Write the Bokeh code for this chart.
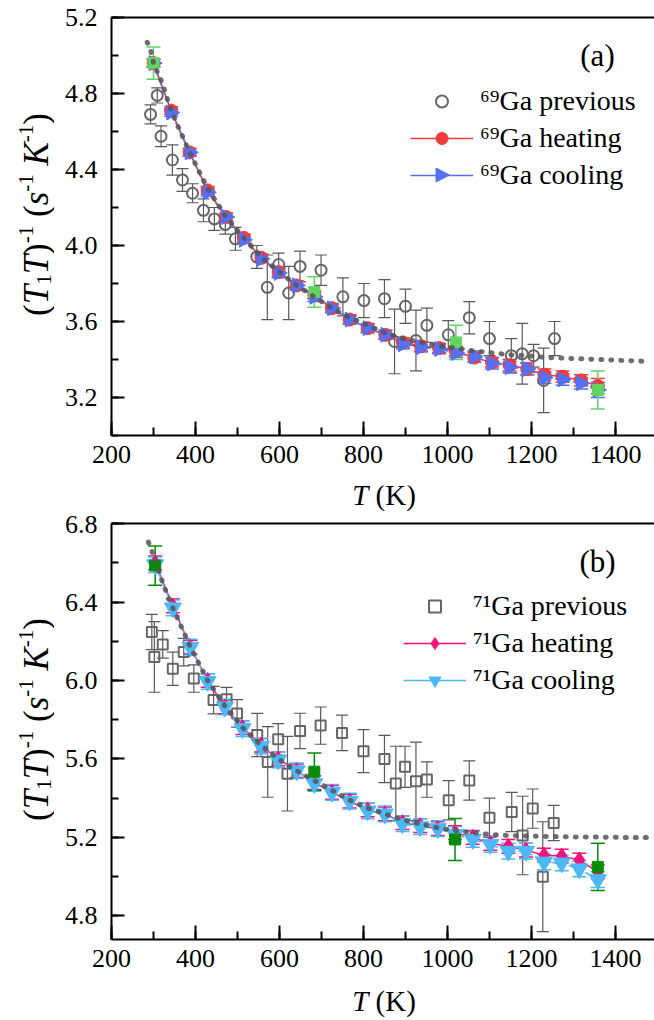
from bokeh.plotting import figure
from bokeh.models import (Range1d, LinearAxis, SingleIntervalTicker, FixedTicker, PrintfTickFormatter,
                          Whisker, TeeHead, ColumnDataSource, Legend, LegendItem, Label, PolyAnnotation)
from bokeh.layouts import column, row
from bokeh.embed import file_html
from bokeh.resources import INLINE
import math

FONT = "Liberation Serif"

# ---------------- panel (a): 69Ga ----------------
a_prev_T = [293, 309, 318, 345, 369, 393, 419, 445, 471, 495, 546, 571, 598, 622, 649, 699, 751, 801,
            850, 874, 900, 925, 951, 1002, 1052, 1100, 1152, 1178, 1205, 1229, 1255]
a_prev_R = [4.69, 4.79, 4.575, 4.45, 4.345, 4.275, 4.185, 4.14, 4.11, 4.035, 3.94, 3.78, 3.90, 3.75, 3.89,
            3.87, 3.73, 3.71, 3.72, 3.495, 3.68, 3.50, 3.58, 3.53, 3.62, 3.51, 3.42, 3.43, 3.42, 3.29, 3.51]
a_prev_E = [0.05, 0.04, 0.055, 0.08, 0.06, 0.05, 0.06, 0.06, 0.05, 0.06, 0.06, 0.17, 0.06, 0.14, 0.08,
            0.08, 0.10, 0.09, 0.10, 0.17, 0.09, 0.16, 0.09, 0.075, 0.085, 0.09, 0.09, 0.16, 0.06, 0.17, 0.09]

a_T = [300, 342, 386, 429, 473, 515, 557, 598, 641, 683, 725, 767, 810, 852, 894, 937, 980, 1020,
       1064, 1106, 1148, 1190, 1231, 1274, 1318, 1358]
a_heat_R = [4.96, 4.71, 4.49, 4.29, 4.15, 4.04, 3.935, 3.86, 3.79, 3.74, 3.67, 3.61, 3.565, 3.53, 3.49,
            3.47, 3.46, 3.445, 3.41, 3.385, 3.37, 3.35, 3.32, 3.31, 3.29, 3.26]
a_heat_E = [0.02, 0.02, 0.02, 0.02, 0.02, 0.02, 0.02, 0.02, 0.02, 0.02, 0.02, 0.02, 0.02, 0.02, 0.025,
            0.025, 0.025, 0.025, 0.025, 0.025, 0.03, 0.03, 0.03, 0.03, 0.03, 0.04]
a_cool_R = [4.96, 4.70, 4.49, 4.28, 4.15, 4.03, 3.93, 3.855, 3.79, 3.73, 3.67, 3.61, 3.565, 3.53, 3.48,
            3.465, 3.455, 3.435, 3.415, 3.38, 3.36, 3.35, 3.305, 3.295, 3.275, 3.24]
a_cool_E = [0.02, 0.02, 0.02, 0.02, 0.02, 0.02, 0.02, 0.025, 0.025, 0.025, 0.025, 0.025, 0.025, 0.025,
            0.025, 0.025, 0.025, 0.025, 0.03, 0.03, 0.03, 0.03, 0.03, 0.03, 0.03, 0.04]

a_ref_T = [300, 683, 1020, 1358]
a_ref_R = [4.96, 3.755, 3.49, 3.24]
a_ref_E = [0.085, 0.08, 0.09, 0.10]

a_fit_T = [285, 294, 300, 320, 342, 386, 429, 473, 515, 557, 600, 641, 683, 725, 767, 810, 852, 894,
           937, 980, 1020, 1064, 1106, 1148, 1190, 1240, 1300, 1360, 1420, 1480]
a_fit_R = [5.07, 5.02, 4.96, 4.86, 4.71, 4.49, 4.30, 4.15, 4.04, 3.94, 3.86, 3.79, 3.73, 3.67, 3.62,
           3.58, 3.54, 3.51, 3.49, 3.47, 3.46, 3.445, 3.435, 3.425, 3.42, 3.41, 3.405, 3.40, 3.395, 3.39]

# ---------------- panel (b): 71Ga ----------------
b_prev_T = [296, 302, 322, 346, 372, 396, 443, 474, 499, 547, 572, 597, 619, 649, 698, 749, 800, 850,
            877, 899, 925, 951, 1003, 1052, 1100, 1153, 1179, 1203, 1227, 1253]
b_prev_R = [6.247, 6.12, 6.184, 6.06, 6.145, 6.01, 5.90, 5.905, 5.832, 5.722, 5.585, 5.70, 5.525, 5.743,
            5.77, 5.733, 5.64, 5.60, 5.475, 5.56, 5.486, 5.495, 5.39, 5.49, 5.30, 5.33, 5.21, 5.347,
            5.00, 5.274]
b_prev_E = [0.09, 0.18, 0.07, 0.085, 0.07, 0.07, 0.07, 0.06, 0.07, 0.11, 0.18, 0.08, 0.19, 0.09, 0.095,
            0.09, 0.11, 0.12, 0.19, 0.105, 0.2, 0.09, 0.1, 0.1, 0.1, 0.1, 0.2, 0.1, 0.28, 0.09]

b_T = [304, 346, 388, 429, 470, 512, 556, 597, 641, 683, 725, 767, 810, 851, 893, 935, 977, 1018,
       1060, 1102, 1145, 1187, 1230, 1272, 1314, 1358]
b_heat_R = [6.60, 6.38, 6.17, 6.00, 5.865, 5.76, 5.67, 5.60, 5.54, 5.48, 5.43, 5.385, 5.34, 5.32, 5.275,
            5.26, 5.245, 5.225, 5.20, 5.17, 5.155, 5.135, 5.11, 5.105, 5.085, 5.025]
b_heat_E = [0.035] * 26
b_cool_R = [6.59, 6.37, 6.17, 5.995, 5.865, 5.755, 5.665, 5.595, 5.54, 5.475, 5.43, 5.385, 5.335, 5.32,
            5.27, 5.255, 5.245, 5.215, 5.19, 5.165, 5.13, 5.13, 5.075, 5.07, 5.04, 4.985]
b_cool_E = [0.04] * 26

b_ref_T = [304, 683, 1018, 1358]
b_ref_R = [6.586, 5.535, 5.19, 5.05]
b_ref_E = [0.10, 0.095, 0.107, 0.12]

b_fit_T = [288, 296, 305, 325, 346, 388, 429, 470, 512, 556, 597, 641, 683, 725, 767, 810, 851, 893,
           935, 977, 1018, 1060, 1102, 1145, 1190, 1240, 1300, 1360, 1420, 1480]
b_fit_R = [6.705, 6.66, 6.60, 6.48, 6.37, 6.17, 6.00, 5.87, 5.76, 5.67, 5.60, 5.54, 5.49, 5.44, 5.39,
           5.35, 5.32, 5.29, 5.27, 5.25, 5.235, 5.225, 5.215, 5.21, 5.207, 5.205, 5.203, 5.202, 5.20, 5.20]

X_RANGE = (200, 1493)
MAIN_W = 600
LEFT_W = 54
FRAME_LEFT = 111

W_REG = {"(": 0.333, ")": 0.333, "-": 0.333, "1": 0.5, "K": 0.722}
W_IT = {"T": 0.556, "s": 0.389, "K": 0.667}


def tw(s, size, italic):
    tbl = W_IT if italic else W_REG
    return sum(tbl.get(c, 0.5) for c in s) * size


def rich_label(p, pieces, x0, y0, angle=0.0):
    # pieces: (text, italic, size, shift, gap_before)
    total = sum(tw(t, sz, it) + g for t, it, sz, sh, g in pieces)
    cum = -total / 2
    for t, it, sz, sh, g in pieces:
        cum += g
        if angle == 0:
            x, y = x0 + cum, y0 + sh
        else:
            x, y = x0 - sh, y0 + cum
        p.add_layout(Label(x=x, y=y, x_units="screen", y_units="screen", text=t, angle=angle,
                           text_font=FONT, text_font_size=f"{sz}px",
                           text_font_style="italic" if it else "normal",
                           text_align="left", text_baseline="alphabetic", text_color="black"))
        cum += tw(t, sz, it)


def blank_fig(w, h):
    p = figure(width=w, height=h, x_range=Range1d(0, 1), y_range=Range1d(0, 1), output_backend="svg",
               toolbar_location=None, x_axis_type=None, y_axis_type=None,
               min_border_left=0, min_border_right=0, min_border_top=0, min_border_bottom=0)
    p.outline_line_color = None
    p.grid.visible = False
    return p


def errbars(p, xs, ys, es, color, width=1.5, cap=14):
    src = ColumnDataSource(dict(x=xs, lo=[y - e for y, e in zip(ys, es)], hi=[y + e for y, e in zip(ys, es)]))
    p.add_layout(Whisker(source=src, base="x", upper="hi", lower="lo", line_color=color, line_width=width,
                         upper_head=TeeHead(size=cap, line_color=color, line_width=width),
                         lower_head=TeeHead(size=cap, line_color=color, line_width=width)))


def make_fig(yr, height, btop, bbottom):
    p = figure(width=MAIN_W, height=height, x_range=Range1d(*X_RANGE), y_range=Range1d(*yr),
               output_backend="svg", toolbar_location=None, x_axis_type=None, y_axis_type=None,
               min_border_left=FRAME_LEFT - LEFT_W, min_border_right=0, min_border_top=btop,
               min_border_bottom=bbottom)
    p.outline_line_color = None
    xa = LinearAxis(ticker=SingleIntervalTicker(interval=200, num_minor_ticks=2))
    ya = LinearAxis(ticker=SingleIntervalTicker(interval=0.4, num_minor_ticks=2),
                    formatter=PrintfTickFormatter(format="%.1f"))
    for ax, tin, tmin, so in ((xa, 14, 8, 10), (ya, 13, 7, 14)):
        ax.axis_line_width = 2
        ax.axis_line_color = "black"
        ax.major_tick_in = tin
        ax.major_tick_out = 0
        ax.minor_tick_in = tmin
        ax.minor_tick_out = 0
        ax.major_tick_line_width = 2
        ax.minor_tick_line_width = 2
        ax.major_tick_line_color = "black"
        ax.minor_tick_line_color = "black"
        ax.major_label_text_font = FONT
        ax.major_label_text_font_size = "26px"
        ax.major_label_text_color = "black"
        ax.major_label_standoff = so
    p.add_layout(xa, "below")
    p.add_layout(ya, "left")
    ta = LinearAxis(ticker=FixedTicker(ticks=[]), axis_line_width=2, axis_line_color="black",
                    major_tick_in=0, major_tick_out=0, minor_tick_in=0, minor_tick_out=0,
                    major_label_text_font_size="0px", major_label_standoff=0)
    p.add_layout(ta, "above")
    return p


def panel(prev, main, refc, fit, yr, height, btop, bbottom, frame_h, colors, markers, iso, tag, leg_loc):
    (pT, pR, pE), (T, hR, hE, cR, cE), (rT, rR, rE), (fT, fR) = prev, main, refc, fit
    hcol, ccol, gcol, pmark = colors
    hm, cm, cang, hsize, csize = markers
    p = make_fig(yr, height, btop, bbottom)
    gray = "#666666"
    errbars(p, pT, pR, pE, "#5a5a5a", width=1.2, cap=12)
    r_prev = p.scatter(pT, pR, marker=pmark, size=11 if pmark == "circle" else 10, fill_color=None,
                       line_color=gray, line_width=2)
    errbars(p, T, hR, hE, hcol, width=1.5, cap=14)
    r_hl = p.line(T, hR, line_color=hcol, line_width=1.5)
    r_hs = p.scatter(T, hR, marker=hm, size=hsize, fill_color=hcol, line_color=hcol)
    errbars(p, T, cR, cE, ccol, width=1.5, cap=14)
    p.line(T, cR, line_color=ccol, line_width=1.5, line_dash="6 3")
    p.scatter(T, cR, marker=cm, angle=cang, size=csize, fill_color=ccol, line_color=ccol)
    errbars(p, rT, rR, rE, gcol, width=1.5, cap=14)
    p.scatter(rT, rR, marker="square", size=11, fill_color=gcol, line_color=gcol)
    p.line(fT, fR, line_color="#555555", line_width=5, line_dash="1 9", line_cap="round", line_alpha=0.85)

    # legend-only renderers for cooling (solid line, marker)
    r_cl_leg = p.line(T, cR, line_color=ccol, line_width=1.5, visible=False)
    cool_r = [r_cl_leg]
    if cang == 0:
        cool_r.append(p.scatter(T, cR, marker=cm, size=csize, fill_color=ccol, line_color=ccol,
                                visible=False))
    items = [LegendItem(label=f"{iso}Ga previous", renderers=[r_prev]),
             LegendItem(label=f"{iso}Ga heating", renderers=[r_hl, r_hs]),
             LegendItem(label=f"{iso}Ga cooling", renderers=cool_r)]
    leg = Legend(items=items, location=leg_loc, glyph_width=63, glyph_height=30, label_height=37,
                 spacing=0, padding=0, margin=0, label_standoff=7, border_line_color=None,
                 background_fill_alpha=0, label_text_font=FONT, label_text_font_size="28px",
                 label_text_color="black")
    p.add_layout(leg)
    if cang != 0:
        # right-pointing triangle for the cooling legend entry (legend markers are never rotated)
        cx, cy = leg_loc[0] + 31.5, leg_loc[1] + 18.5
        p.add_layout(PolyAnnotation(xs=[cx - 6, cx - 6, cx + 7.5], ys=[cy + 7, cy - 7, cy],
                                    xs_units="screen", ys_units="screen", fill_color=ccol, fill_alpha=1,
                                    line_color=ccol, line_alpha=1, line_width=1))

    p.add_layout(Label(x=486, y=frame_h - 38, x_units="screen", y_units="screen", text=tag,
                       text_font=FONT, text_font_size="31px", text_align="center",
                       text_baseline="middle", text_color="black"))
    return p


pa = panel((a_prev_T, a_prev_R, a_prev_E), (a_T, a_heat_R, a_heat_E, a_cool_R, a_cool_E),
           (a_ref_T, a_ref_R, a_ref_E), (a_fit_T, a_fit_R), (3.0, 5.2001), 485, 17, 50, 418,
           ("#f23b3b", "#5470f5", "#62d462", "circle"), ("circle", "triangle", -math.pi / 2, 13, 15),
           "⁶⁹", "(a)", (299, 242))
pb = panel((b_prev_T, b_prev_R, b_prev_E), (b_T, b_heat_R, b_heat_E, b_cool_R, b_cool_E),
           (b_ref_T, b_ref_R, b_ref_E), (b_fit_T, b_fit_R), (4.68, 6.8001), 474, 8, 50, 416,
           ("#f5127d", "#4db8f7", "#078c07", "square"), ("diamond", "inverted_triangle", 0, 16, 17),
           "⁷¹", "(b)", (292, 241))

# x-axis titles: T (K)  (frames of the column are aligned, so x is relative to the plot frame)
XL = [("T", True, 29, 0, 0), ("(K)", False, 29, 0, 0.25 * 29)]
xa_fig = blank_fig(MAIN_W, 30)
rich_label(xa_fig, XL, 383.5 - FRAME_LEFT, 21)
xb_fig = blank_fig(MAIN_W, 31)
rich_label(xb_fig, XL, 383.5 - FRAME_LEFT, 20)

# y-axis titles: (T1T)^-1 (s^-1 K^-1)
ylab = blank_fig(LEFT_W, 1020)
F, S = 35, 21
sup, sub = 11, -7
y_pieces = [("(", False, F, 0, 0), ("T", True, F, 0, 0), ("1", False, S, sub, 0), ("T", True, F, 0, 0),
            (")", False, F, 0, 0), ("-1", False, S, sup, 0), ("(", False, F, 0, 0.25 * F),
            ("s", True, F, 0, 0), ("-1", False, S, sup, 0), ("K", True, F, 0, 0.25 * F),
            ("-1", False, S, sup, 0), (")", False, F, 0, 0)]
rich_label(ylab, y_pieces, 36, 1020 - 214, angle=math.pi / 2)
rich_label(ylab, y_pieces, 36, 1020 - 719, angle=math.pi / 2)

layout = row(ylab, column(pa, xa_fig, pb, xb_fig, spacing=0), spacing=0)
open("out.html", "w").write(file_html(layout, INLINE))
